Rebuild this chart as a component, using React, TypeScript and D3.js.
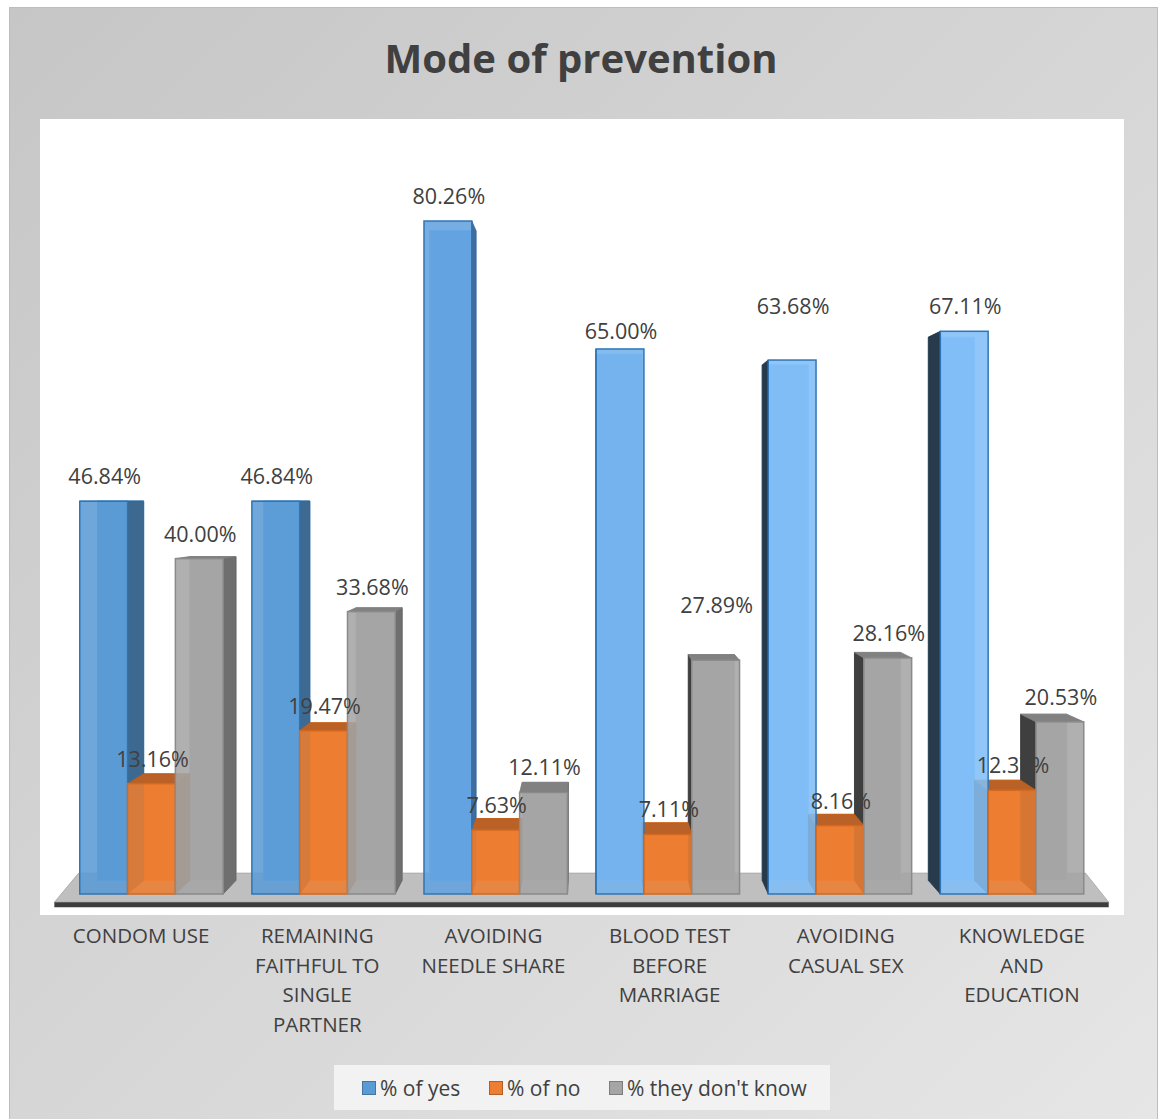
import React from "react";
import * as d3 from "d3";

// Chart data
const categories = [
  "CONDOM USE",
  "REMAINING FAITHFUL TO SINGLE PARTNER",
  "AVOIDING NEEDLE SHARE",
  "BLOOD TEST BEFORE MARRIAGE",
  "AVOIDING CASUAL SEX",
  "KNOWLEDGE AND EDUCATION",
];
const categoryLines = [
  ["CONDOM USE"],
  ["REMAINING", "FAITHFUL TO", "SINGLE", "PARTNER"],
  ["AVOIDING", "NEEDLE SHARE"],
  ["BLOOD TEST", "BEFORE", "MARRIAGE"],
  ["AVOIDING", "CASUAL SEX"],
  ["KNOWLEDGE", "AND", "EDUCATION"],
];
const seriesNames = ["% of yes", "% of no", "% they don't know"];
const yesValues = [46.84, 46.84, 80.26, 65.0, 63.68, 67.11];
const noValues = [13.16, 19.47, 7.63, 7.11, 8.16, 12.37];
const dontKnowValues = [40.0, 33.68, 12.11, 27.89, 28.16, 20.53];
const seriesValues = [yesValues, noValues, dontKnowValues];
const seriesColors = ["#5b9bd5", "#ed7d31", "#a5a5a5"];
const seriesStrokes = ["#2f75b5", "#d2691f", "#8a8a8a"];

const W = 1160;
const H = 1119;
const FONT = "'Open Sans', 'Noto Sans', sans-serif";
const TEXT = "#404040";

// perspective: vanishing point, bar depth, plane of bar fronts vs floor front
const VP = { x: 593, y: 500 };
const DEPTH = 0.0346;
const PLANE = 0.977;
const BASE = 894;

// a few data labels sit away from the default spot above their bar
const LABEL_NUDGE: Record<string, number> = { "3-0": 7, "3-2": -30, "4-0": -29 };

type P = [number, number];
const toward = (p: P, k: number, ky: number = k): P => [
  p[0] + (VP.x - p[0]) * k,
  p[1] + (VP.y - p[1]) * ky,
];
const pts = (a: P[]) => a.map((p) => `${p[0].toFixed(2)},${p[1].toFixed(2)}`).join(" ");

export default function App() {
  const xCat = d3.scaleBand<string>().domain(categories).range([53, 1110]);
  const toPlane = (x: number) => VP.x + (x - VP.x) * PLANE;
  const xSeries = d3
    .scaleBand<string>()
    .domain(seriesNames)
    .range([0, xCat.bandwidth() * PLANE])
    .paddingInner(0)
    .paddingOuter(0.3);
  const y = d3.scaleLinear().domain([0, 100]).range([BASE, BASE - 838.5]);
  const blueAt = d3
    .scaleLinear<string>()
    .domain([100, 280, 450, 620, 790, 960])
    .range(["#5b9bd5", "#5c9cd7", "#63a3e0", "#74b3ed", "#80bdf6", "#81bef7"])
    .clamp(true);
  const fmt = d3.format(".2f");

  type Bar = {
    key: string;
    s: number;
    v: number;
    x0: number;
    x1: number;
    top: number;
    fill: string;
    stroke: string;
  };
  const bars: Bar[] = [];
  categories.forEach((c, ci) => {
    seriesNames.forEach((sn, si) => {
      const x0 = toPlane(xCat(c)!) + xSeries(sn)!;
      const x1 = x0 + xSeries.bandwidth();
      const v = seriesValues[si][ci];
      const fill = si === 0 ? blueAt((x0 + x1) / 2) : seriesColors[si];
      bars.push({ key: `${ci}-${si}`, s: si, v, x0, x1, top: y(v), fill, stroke: seriesStrokes[si] });
    });
  });

  const geo = (b: Bar) => {
    const fTL: P = [b.x0, b.top];
    const fTR: P = [b.x1, b.top];
    const fBR: P = [b.x1, BASE];
    const fBL: P = [b.x0, BASE];
    const bTL = toward(fTL, DEPTH);
    const bTR = toward(fTR, DEPTH);
    const bBR = toward(fBR, DEPTH);
    const bBL = toward(fBL, DEPTH);
    return { fTL, fTR, fBR, fBL, bTL, bTR, bBR, bBL };
  };

  // floor slab
  const fl0 = toPlane(53);
  const fl1 = toPlane(1110);
  const floorFrontL = toward([fl0, BASE], -0.021);
  const floorFrontR = toward([fl1, BASE], -0.021);
  const floorBackL = toward([fl0, BASE], 0.025, 0.053);
  const floorBackR = toward([fl1, BASE], 0.025, 0.053);

  const legendItems = seriesNames.map((n, i) => ({ n, i }));
  const legendX = [362, 489, 609];

  return (
    <svg
      width={W}
      height={H}
      style={{ position: "absolute", left: 0, top: 0, display: "block" }}
      fontFamily={FONT}
    >
      <defs>
        <linearGradient id="bgGrad" x1="0" y1="0" x2="1" y2="1">
          <stop offset="0" stopColor="#c6c6c6" />
          <stop offset="1" stopColor="#e6e6e6" />
        </linearGradient>
      </defs>
      <rect x={9.5} y={7.5} width={1148} height={1112} fill="url(#bgGrad)" stroke="#bdbdbd" />
      <text x={581} y={73} textAnchor="middle" fontSize={40} fontWeight="bold" fill={TEXT}>
        Mode of prevention
      </text>

      {/* plot area */}
      <rect x={40} y={119} width={1084} height={796} fill="#ffffff" />

      {/* floor */}
      <polygon points={pts([floorFrontL, floorFrontR, floorBackR, floorBackL])} fill="#bfbfbf" stroke="#a6a6a6" strokeWidth={0.8} />
      <polygon
        points={pts([floorFrontL, floorFrontR, [floorFrontR[0], floorFrontR[1] + 5], [floorFrontL[0], floorFrontL[1] + 5]])}
        fill="#3d3d3d"
      />

      {/* hidden back faces (seen through the translucent fronts) */}
      {bars.map((b) => {
        const g = geo(b);
        const light = d3.color(b.fill)!.brighter(0.25).formatHex();
        return (
          <polygon key={"h" + b.key} points={pts([g.bTL, g.bTR, g.bBR, g.bBL])} fill={b.fill} stroke={light} strokeWidth={1} />
        );
      })}

      {/* visible side faces */}
      {bars.map((b) => {
        const g = geo(b);
        if (b.x1 < VP.x) {
          const c = d3.color(b.fill)!.darker(1.1).formatHex();
          return (
            <polygon key={"s" + b.key} points={pts([g.fTR, g.bTR, g.bBR, g.fBR])} fill={c} stroke={d3.color(c)!.darker(0.3).formatHex()} strokeWidth={0.8} />
          );
        }
        if (b.x0 > VP.x) {
          const c = d3.color(b.fill)!.darker(b.s === 0 ? 3.3 : 2.7).formatHex();
          return (
            <polygon key={"s" + b.key} points={pts([g.fTL, g.bTL, g.bBL, g.fBL])} fill={c} stroke={d3.color(c)!.darker(0.3).formatHex()} strokeWidth={0.8} />
          );
        }
        return null;
      })}

      {/* top faces */}
      {bars.map((b) => {
        if (b.top <= VP.y) return null;
        const g = geo(b);
        const c = d3.color(b.fill)!.darker(0.7).formatHex();
        return <polygon key={"t" + b.key} points={pts([g.fTL, g.fTR, g.bTR, g.bTL])} fill={c} stroke={d3.color(b.stroke)!.darker(0.3).formatHex()} strokeWidth={0.8} />;
      })}

      {/* front faces */}
      {bars.map((b) => (
        <rect
          key={"f" + b.key}
          x={b.x0}
          y={b.top}
          width={b.x1 - b.x0}
          height={BASE - b.top}
          fill={b.fill}
          fillOpacity={0.88}
          stroke={b.stroke}
          strokeWidth={1.5}
        />
      ))}

      {/* value labels */}
      {bars.map((b) => (
        <text
          key={"l" + b.key}
          x={(b.x0 + b.x1) / 2 + 1}
          y={b.top - 17 + (LABEL_NUDGE[b.key] ?? 0)}
          textAnchor="middle"
          fontSize={21.5}
          fill={TEXT}
        >
          {fmt(b.v)}%
        </text>
      ))}

      {/* category labels */}
      {categories.map((c, ci) => (
        <text key={"c" + c} textAnchor="middle" fontSize={20.5} fill={TEXT}>
          {categoryLines[ci].map((ln, li) => (
            <tspan key={li} x={xCat(c)! + xCat.bandwidth() / 2} y={943 + li * 29.6}>
              {ln}
            </tspan>
          ))}
        </text>
      ))}

      {/* legend */}
      <rect x={334} y={1065} width={496} height={45} fill="#f2f2f2" />
      {legendItems.map(({ n, i }) => (
        <g key={"lg" + i}>
          <rect
            x={legendX[i] + 0.5}
            y={1081.5}
            width={13}
            height={13}
            fill={seriesColors[i]}
            stroke={d3.color(seriesColors[i])!.darker(0.8).formatHex()}
          />
          <text x={legendX[i] + 18} y={1096} fontSize={21} fill={TEXT}>
            {n}
          </text>
        </g>
      ))}
    </svg>
  );
}
